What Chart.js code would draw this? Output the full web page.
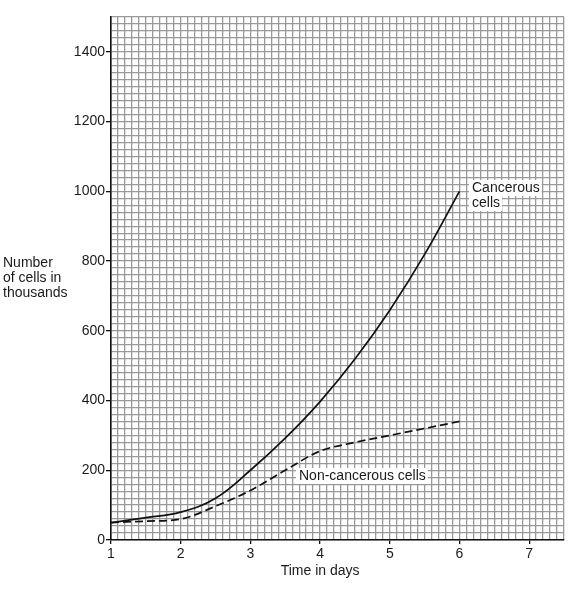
<!DOCTYPE html>
<html>
<head>
<meta charset="utf-8">
<script src="https://cdn.jsdelivr.net/npm/chart.js@4.4.1/dist/chart.umd.min.js"></script>
<style>
  html, body { margin: 0; padding: 0; background: #fff; }
  #wrap { width: 578px; height: 597px; }
</style>
</head>
<body>
<div id="wrap"><canvas id="c" width="578" height="597"></canvas></div>
<script>
const days = [1, 1.5, 2, 2.5, 3, 3.5, 4, 4.5, 5, 5.5, 6];
const cancerous = [50, 64, 80, 120, 200, 292, 397, 519, 659, 819, 1000];
const nonCancerous = [50, 54, 60, 97, 142, 200, 255, 280, 300, 320, 340];
const xTickLabels = [1, 2, 3, 4, 5, 6, 7];
const yTickLabels = [0, 200, 400, 600, 800, 1000, 1200, 1400];
const yTitleLines = ['Number', 'of cells in', 'thousands'];
const xTitle = 'Time in days';
const cancerLabel = ['Cancerous', 'cells'];
const nonCancerLabel = ['Non-cancerous cells'];

const FONT = '"Liberation Sans", Arial, sans-serif';
const GRID = '#999999';

const near = (v, arr) => arr.some(a => Math.abs(a - v) < 1e-6);

const textPlugin = {
  id: 'texts',
  afterDatasetsDraw(chart) {
    const ctx = chart.ctx;
    const xs = chart.scales.x;
    ctx.save();
    ctx.font = '14px ' + FONT;
    ctx.fillStyle = '#1a1a1a';
    ctx.textBaseline = 'middle';
    ctx.textAlign = 'left';
    yTitleLines.forEach((t, i) => ctx.fillText(t, 3, 263 + i * 15));
    ctx.textAlign = 'center';
    ctx.fillText(xTitle, xs.getPixelForValue(4), 571);
    ctx.textAlign = 'left';
    const box = (lines, x, y0) => {
      lines.forEach((t, i) => {
        const w = ctx.measureText(t).width;
        const y = y0 + i * 15;
        ctx.fillStyle = '#fff';
        ctx.fillRect(x - 3, y - 8, w + 5, 16);
        ctx.fillStyle = '#1a1a1a';
        ctx.fillText(t, x, y);
      });
    };
    box(cancerLabel, 472, 188);
    box(nonCancerLabel, 299, 476);
    ctx.restore();
  }
};

new Chart(document.getElementById('c'), {
  type: 'line',
  data: {
    datasets: [
      {
        label: 'Cancerous cells',
        data: days.map((d, i) => ({x: d, y: cancerous[i]})),
        borderColor: '#111',
        borderWidth: 1.7,
        pointRadius: 0,
        fill: false,
        tension: 0.4
      },
      {
        label: 'Non-cancerous cells',
        data: days.map((d, i) => ({x: d, y: nonCancerous[i]})),
        borderColor: '#111',
        borderWidth: 1.7,
        borderDash: [8, 4],
        pointRadius: 0,
        fill: false,
        cubicInterpolationMode: 'monotone'
      }
    ]
  },
  options: {
    responsive: false,
    animation: false,
    events: [],
    layout: { padding: { left: 0, top: 17, right: 14, bottom: 0 } },
    plugins: { legend: { display: false }, tooltip: { enabled: false }, title: { display: false } },
    scales: {
      x: {
        type: 'linear',
        min: 1, max: 7.5,
        ticks: {
          stepSize: 0.1,
          autoSkip: false,
          maxRotation: 0, minRotation: 0,
          padding: 2,
          color: '#1a1a1a',
          font: { family: FONT, size: 14 },
          callback: (v) => near(v, xTickLabels) ? String(Math.round(v)) : ''
        },
        grid: {
          color: GRID,
          lineWidth: 1.3,
          tickLength: 4,
          tickColor: (c) => (c.tick && near(c.tick.value, xTickLabels)) ? '#111' : 'rgba(0,0,0,0)',
          tickWidth: 1.3
        },
        border: { display: true, color: '#111', width: 1.6 },
        afterFit: (s) => { s.height = 57; s.paddingLeft = 0; s.paddingRight = 0; s.paddingTop = 0; s.paddingBottom = 0; }
      },
      y: {
        type: 'linear',
        min: 0, max: 1500,
        ticks: {
          stepSize: 20,
          autoSkip: false,
          padding: 1,
          color: '#1a1a1a',
          font: { family: FONT, size: 14 },
          callback: (v) => near(v, yTickLabels) ? String(Math.round(v)) : ''
        },
        grid: {
          color: GRID,
          lineWidth: 1.3,
          tickLength: 5,
          tickColor: (c) => (c.tick && near(c.tick.value, yTickLabels)) ? '#111' : 'rgba(0,0,0,0)',
          tickWidth: 1.3
        },
        border: { display: true, color: '#111', width: 1.6 },
        afterFit: (s) => { s.width = 111; s.paddingLeft = 0; s.paddingRight = 0; s.paddingTop = 0; s.paddingBottom = 0; }
      }
    }
  },
  plugins: [textPlugin]
});
</script>
</body>
</html>
